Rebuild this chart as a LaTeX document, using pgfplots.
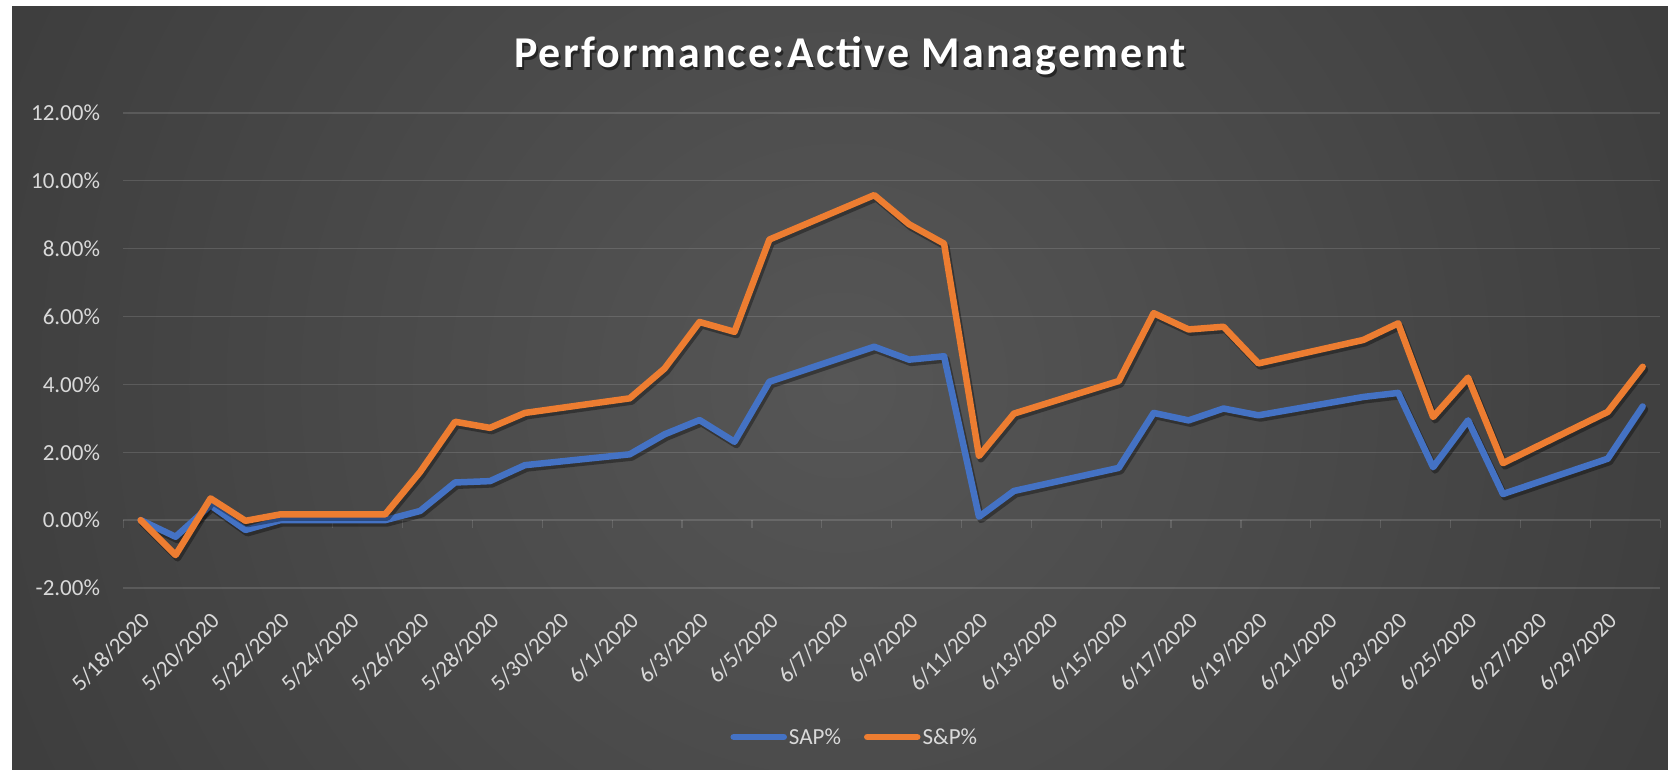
\documentclass[border=0pt]{standalone}
\usepackage{pgfplots}
\usepackage{pgfplotstable}
\pgfplotsset{compat=1.18}
\usepackage{fontspec}
\setmainfont{Carlito}
\newfontfamily\titlefont[LetterSpace=5]{Carlito}
\definecolor{sapblue}{HTML}{4472C4}
\definecolor{sporange}{HTML}{ED7D31}
\definecolor{txt}{HTML}{D9D9D9}
\definecolor{bgin}{RGB}{86,86,86}
\definecolor{bgout}{RGB}{36,36,36}
\pgfdeclareradialshading{bgshade}{\pgfpoint{0bp}{0bp}}{color(0bp)=(bgin); color(50bp)=(bgout)}

\pgfplotstableread{
idx sap sp
0  0.00  0.00
1  -0.49 -1.03
2  0.44  0.64
3  -0.29 -0.02
4  0.00  0.17
7  0.00  0.17
8  0.27  1.42
9  1.11  2.90
10 1.15  2.72
11 1.62  3.16
14 1.94  3.59
15 2.53  4.47
16 2.95  5.84
17 2.31  5.55
18 4.08  8.27
21 5.11  9.58
22 4.73  8.72
23 4.83  8.15
24 0.10  1.89
25 0.86  3.14
28 1.54  4.10
29 3.16  6.10
30 2.94  5.62
31 3.29  5.70
32 3.09  4.62
35 3.63  5.31
36 3.75  5.80
37 1.56  3.04
38 2.94  4.20
39 0.77  1.68
42 1.81  3.19
43 3.35  4.52
}\perf

\begin{document}
\begin{tikzpicture}
\fill[white] (0pt,0pt) rectangle (1668pt,770pt);
\begin{scope}
\clip (12pt,0pt) rectangle (1668pt,763pt);
\shade[shading=bgshade] (840pt,385pt) circle (930pt);
\end{scope}
\begin{axis}[
  at={(123.2pt,182pt)}, anchor=south west,
  scale only axis, width=1537pt, height=475pt,
  xmin=-0.5, xmax=43.5, ymin=-2, ymax=12,
  axis line style={draw=none},
  tick pos=left,
  ytick={-2,0,...,12},
  yticklabels={-2.00\%,0.00\%,2.00\%,4.00\%,6.00\%,8.00\%,10.00\%,12.00\%},
  ymajorgrids,
  major grid style={color=white, opacity=0.13, line width=1.3pt},
  major tick length=0pt,
  minor tick length=8pt,
  tick align=outside,
  major x tick style={draw=none},
  major y tick style={draw=none},
  minor x tick style={color=white, opacity=0.13, line width=1.3pt, yshift=67.86pt},
  yticklabel style={anchor=east, inner sep=0pt, xshift=-23pt, text=txt, font=\fontsize{23}{27}\selectfont},
  xtick={0,2,...,42},
  minor xtick={-0.5,1.5,...,43.5},
  xticklabels={5/18/2020,5/20/2020,5/22/2020,5/24/2020,5/26/2020,5/28/2020,5/30/2020,6/1/2020,6/3/2020,6/5/2020,6/7/2020,6/9/2020,6/11/2020,6/13/2020,6/15/2020,6/17/2020,6/19/2020,6/21/2020,6/23/2020,6/25/2020,6/27/2020,6/29/2020},
  xticklabel style={xshift=5pt, yshift=-29pt, rotate=45, anchor=east, inner sep=0pt, text=txt, font=\fontsize{23}{27}\selectfont},
  legend columns=2,
  legend style={at={(0.476,-0.3137)}, anchor=center, draw=none, fill=none, text=txt,
    font=\fontsize{23}{27}\selectfont,
    /tikz/every even column/.append style={column sep=21pt}},
  legend image code/.code={\draw[#1, line cap=round] (0pt,0pt) -- (50pt,0pt);},
]
\addplot[forget plot, black, opacity=0.35, line width=7pt, line join=round, line cap=round, xshift=2pt, yshift=-3pt] table[x=idx,y=sap]{\perf};
\addplot[sapblue, line width=6.5pt, line join=round, line cap=round] table[x=idx,y=sap]{\perf};
\addlegendentry{SAP\%}
\addplot[forget plot, black, opacity=0.35, line width=7pt, line join=round, line cap=round, xshift=2pt, yshift=-3pt] table[x=idx,y=sp]{\perf};
\addplot[sporange, line width=6.5pt, line join=round, line cap=round] table[x=idx,y=sp]{\perf};
\addlegendentry{S\&P\%}
\end{axis}
\node[anchor=base, text=black, opacity=0.5, font=\titlefont\bfseries\fontsize{44}{50}\selectfont] at (852pt,699pt) {Performance:Active Management};
\node[anchor=base, text=white, font=\titlefont\bfseries\fontsize{44}{50}\selectfont] at (850pt,702pt) {Performance:Active Management};
\end{tikzpicture}
\end{document}
